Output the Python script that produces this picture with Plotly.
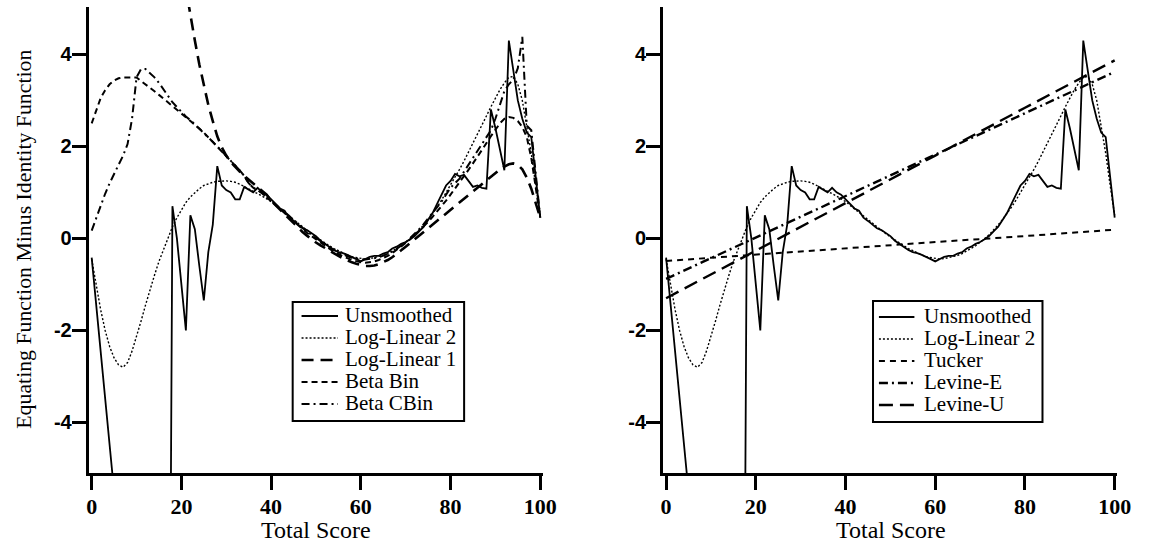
import plotly.graph_objects as go

# ---------------- data ----------------
scores = list(range(0, 101))

unsmoothed = [
    -0.42, -1.45, -2.5, -3.5, -4.55, -5.6, -6.6, -7.6, -8.6, -9.6,
    -10.6, -11.6, -12.6, -13.6, -14.6, -15.6, -16.6, -17.0, 0.7, 0.0,
    -1.0, -2.0, 0.5, 0.2, -0.6, -1.35, -0.3, 0.3, 1.57, 1.15,
    1.05, 1.0, 0.85, 0.85, 1.12, 1.05, 1.0, 1.1, 1.0, 0.95,
    0.85, 0.75, 0.65, 0.6, 0.45, 0.38, 0.3, 0.22, 0.18, 0.12,
    0.05, -0.05, -0.12, -0.2, -0.25, -0.3, -0.32, -0.36, -0.4, -0.45,
    -0.5, -0.45, -0.4, -0.38, -0.38, -0.33, -0.3, -0.22, -0.18, -0.12,
    -0.08, -0.02, 0.05, 0.15, 0.25, 0.4, 0.55, 0.75, 0.95, 1.15,
    1.25, 1.4, 1.35, 1.38, 1.25, 1.12, 1.15, 1.1, 1.08, 2.8,
    2.4, 1.95, 1.48, 4.3, 3.6, 3.0, 2.6, 2.3, 2.2, 1.3,
    0.45,
]

loglinear2 = [
    -0.45, -1.05, -1.55, -2.0, -2.35, -2.6, -2.75, -2.8, -2.7, -2.45,
    -2.15, -1.8, -1.45, -1.1, -0.8, -0.5, -0.25, 0.0, 0.25, 0.45,
    0.62, 0.78, 0.9, 1.0, 1.08, 1.15, 1.19, 1.22, 1.24, 1.25,
    1.25, 1.24, 1.22, 1.18, 1.13, 1.08, 1.03, 0.98, 0.92, 0.86,
    0.8, 0.72, 0.64, 0.56, 0.48, 0.4, 0.32, 0.24, 0.17, 0.1,
    0.03, -0.04, -0.1, -0.16, -0.22, -0.27, -0.32, -0.36, -0.4, -0.42,
    -0.44, -0.45, -0.44, -0.42, -0.4, -0.37, -0.33, -0.28, -0.22, -0.16,
    -0.09, -0.01, 0.08, 0.18, 0.29, 0.41, 0.54, 0.68, 0.83, 0.99,
    1.15, 1.32, 1.5, 1.68, 1.87, 2.06, 2.26, 2.46, 2.66, 2.86,
    3.05, 3.23, 3.38, 3.5, 3.52, 3.35, 3.0, 2.45, 1.85, 1.15,
    0.5,
]

ll1_scores = list(range(20, 101))
loglinear1 = [
    6.0, 5.4, 4.85, 4.3, 3.78, 3.3, 2.9, 2.55, 2.22, 1.98,
    1.8, 1.66, 1.55, 1.45, 1.36, 1.28, 1.2, 1.12, 1.04, 0.95,
    0.82, 0.72, 0.62, 0.52, 0.42, 0.32, 0.23, 0.14, 0.06, -0.02,
    -0.09, -0.15, -0.21, -0.27, -0.33, -0.38, -0.43, -0.48, -0.52, -0.55,
    -0.58, -0.6, -0.6, -0.59, -0.56, -0.52, -0.47, -0.41, -0.34, -0.26,
    -0.18, -0.1, -0.02, 0.07, 0.15, 0.23, 0.31, 0.39, 0.47, 0.55,
    0.63, 0.71, 0.78, 0.86, 0.94, 1.02, 1.1, 1.18, 1.26, 1.34,
    1.42, 1.5, 1.56, 1.61, 1.63, 1.6, 1.5, 1.32, 1.08, 0.78,
    0.45,
]

betabin = [
    2.5, 2.8, 3.05, 3.22, 3.35, 3.43, 3.48, 3.5, 3.5, 3.5,
    3.5, 3.42, 3.35, 3.27, 3.2, 3.12, 3.04, 2.96, 2.88, 2.8,
    2.72, 2.65, 2.57, 2.48, 2.39, 2.3, 2.2, 2.1, 2.0, 1.9,
    1.8, 1.7, 1.6, 1.48, 1.36, 1.2, 1.1, 1.05, 0.98, 0.9,
    0.82, 0.73, 0.64, 0.55, 0.46, 0.37, 0.28, 0.2, 0.12, 0.05,
    -0.02, -0.09, -0.16, -0.23, -0.29, -0.34, -0.39, -0.43, -0.47, -0.5,
    -0.52, -0.53, -0.52, -0.5, -0.47, -0.43, -0.38, -0.32, -0.25, -0.18,
    -0.1, -0.02, 0.07, 0.16, 0.26, 0.36, 0.47, 0.58, 0.7, 0.82,
    0.95, 1.08, 1.21, 1.35, 1.49, 1.63, 1.77, 1.92, 2.07, 2.22,
    2.37, 2.5, 2.6, 2.64, 2.62, 2.55, 2.42, 2.2, 1.75, 1.1,
    0.45,
]

betacbin = [
    0.17, 0.45, 0.72, 0.97, 1.2, 1.4, 1.6, 1.8, 2.05, 2.6,
    3.5, 3.68, 3.68, 3.6, 3.5, 3.38, 3.25, 3.1, 2.96, 2.85,
    2.74, 2.65, 2.57, 2.48, 2.39, 2.3, 2.2, 2.1, 2.0, 1.9,
    1.8, 1.7, 1.6, 1.48, 1.36, 1.2, 1.1, 1.05, 0.98, 0.9,
    0.83, 0.74, 0.65, 0.57, 0.49, 0.4, 0.31, 0.23, 0.15, 0.08,
    0.01, -0.06, -0.13, -0.19, -0.25, -0.3, -0.35, -0.39, -0.42, -0.44,
    -0.46, -0.46, -0.45, -0.43, -0.41, -0.38, -0.34, -0.29, -0.23, -0.16,
    -0.09, 0.0, 0.1, 0.2, 0.31, 0.43, 0.56, 0.68, 0.8, 0.95,
    1.1, 1.2, 1.3, 1.45, 1.6, 1.75, 1.9, 2.05, 2.2, 2.35,
    2.6, 2.9, 3.2, 3.35, 3.45, 3.7, 4.38, 2.45, 2.35, 1.4,
    0.45,
]

lin_scores = [0, 20, 40, 60, 80, 100]
tucker = [-0.49, -0.35, -0.22, -0.08, 0.05, 0.19]
levine_e = [-0.88, 0.02, 0.92, 1.82, 2.72, 3.62]
levine_u = [-1.3, -0.27, 0.76, 1.8, 2.84, 3.87]

x_ticks = [0, 20, 40, 60, 80, 100]
y_ticks = [-4, -2, 0, 2, 4]

# ---------------- styles ----------------
STY = {
    "Unsmoothed": ("solid", 1.8),
    "Log-Linear 2": ("2px,2px", 1.4),
    "Log-Linear 1": ("12px,7px", 2.6),
    "Beta Bin": ("6px,4px", 2.0),
    "Beta CBin": ("8px,4px,2px,4px", 2.0),
    "Tucker": ("6px,5px", 2.0),
    "Levine-E": ("9px,4px,2px,4px", 2.4),
    "Levine-U": ("14px,7px", 2.4),
}

left_series = [("Unsmoothed", scores, unsmoothed), ("Log-Linear 2", scores, loglinear2),
               ("Log-Linear 1", ll1_scores, loglinear1), ("Beta Bin", scores, betabin),
               ("Beta CBin", scores, betacbin)]
right_series = [("Unsmoothed", scores, unsmoothed), ("Log-Linear 2", scores, loglinear2),
                ("Tucker", lin_scores, tucker), ("Levine-E", lin_scores, levine_e),
                ("Levine-U", lin_scores, levine_u)]

fig = go.Figure()
for name, xs, ys in left_series:
    d, w = STY[name]
    fig.add_trace(go.Scatter(x=xs, y=ys, name=name, mode="lines", showlegend=False,
                             line=dict(color="black", dash=d, width=w), xaxis="x", yaxis="y"))
for name, xs, ys in right_series:
    d, w = STY[name]
    fig.add_trace(go.Scatter(x=xs, y=ys, name=name, mode="lines", showlegend=False,
                             line=dict(color="black", dash=d, width=w), xaxis="x2", yaxis="y2"))

W, H = 1156, 543
xr = [-0.66, 100.6]
yr = [-5.1, 5.03]

common_x = dict(
    range=xr, tickvals=x_ticks, ticks="outside", ticklen=14, tickwidth=2.5,
    tickcolor="black", showline=True, linewidth=3, linecolor="black",
    showgrid=False, zeroline=False,
    tickfont=dict(family="Liberation Serif", size=22, color="black", weight="bold"),
    ticklabelstandoff=-2,
)
common_y = dict(
    range=yr, tickvals=y_ticks, ticktext=[str(v) for v in y_ticks],
    ticks="outside", ticklen=14, tickwidth=2.5,
    tickcolor="black", showline=True, linewidth=3, linecolor="black",
    showgrid=False, zeroline=False,
    tickfont=dict(family="Liberation Sans", size=20, color="black", weight="bold"),
    ticklabelstandoff=-4,
)

ydom = [1 - 473 / H, 1 - 7 / H]

# ---------------- legends (drawn as boxed keys in paper space) ----------------
shapes, annots = [], []

def legend_box(series, box, x_line, x_text, rows):
    x0, y0, x1, y1 = box
    shapes.append(dict(type="rect", xref="paper", yref="paper",
                       x0=x0 / W, x1=x1 / W, y0=1 - y1 / H, y1=1 - y0 / H,
                       line=dict(color="black", width=2), fillcolor="white", layer="above"))
    for (name, _, _), ry in zip(series, rows):
        d, w = STY[name]
        shapes.append(dict(type="line", xref="paper", yref="paper",
                           x0=x_line[0] / W, x1=x_line[1] / W, y0=1 - ry / H, y1=1 - ry / H,
                           line=dict(color="black", dash=d, width=w), layer="above"))
        annots.append(dict(text=name, x=x_text / W, y=1 - (ry - 1) / H, xref="paper", yref="paper",
                           showarrow=False, xanchor="left", yanchor="middle",
                           font=dict(family="Liberation Serif", size=21, color="black")))

legend_box(left_series, (294, 302, 468, 421), (303, 340), 345, [316, 338, 360, 382, 404])
legend_box(right_series, (883, 301, 1055, 422), (889, 925), 933, [317, 339, 361, 383, 405])

annots += [
    dict(text="Total Score", x=317.5 / W, y=1 - 530 / H, xref="paper", yref="paper",
         showarrow=False, xanchor="center", yanchor="middle",
         font=dict(family="Liberation Serif", size=24, color="black")),
    dict(text="Total Score", x=901 / W, y=1 - 530 / H, xref="paper", yref="paper",
         showarrow=False, xanchor="center", yanchor="middle",
         font=dict(family="Liberation Serif", size=24, color="black")),
    dict(text="Equating Function Minus Identity Function", x=21 / W, y=1 - 239 / H,
         xref="paper", yref="paper", showarrow=False, textangle=-90,
         xanchor="center", yanchor="middle",
         font=dict(family="Liberation Serif", size=21.8, color="black")),
]

fig.update_layout(
    width=W, height=H,
    margin=dict(l=0, r=0, t=0, b=0),
    paper_bgcolor="white", plot_bgcolor="white",
    font=dict(family="Liberation Serif", color="black"),
    showlegend=False,
    xaxis=dict(domain=[87 / W, 548 / W], anchor="y", **common_x),
    yaxis=dict(domain=ydom, anchor="x", **common_y),
    xaxis2=dict(domain=[670 / W, 1131 / W], anchor="y2", **common_x),
    yaxis2=dict(domain=ydom, anchor="x2", **common_y),
    shapes=shapes,
    annotations=annots,
)

fig.write_html("out.html")
